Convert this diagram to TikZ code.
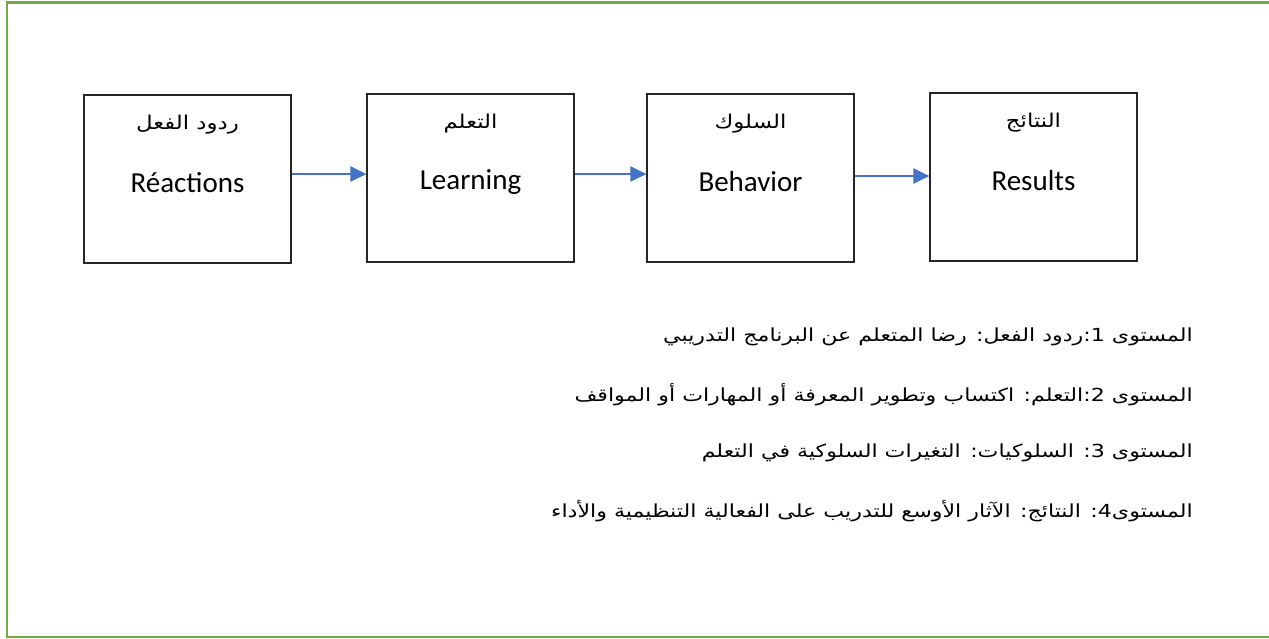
\documentclass[tikz,border=0pt]{standalone}
\usepackage{fontspec}
\setmainfont{Carlito}
\newfontfamily\arabicfont[Script=Arabic, FakeStretch=1.2]{DejaVu Sans}
\newfontfamily\arabiclines[Script=Arabic, FakeStretch=1.23]{DejaVu Sans}
\TeXXeTstate=1
\usetikzlibrary{arrows.meta}
\definecolor{framegreen}{HTML}{70AD47}
\definecolor{arrowblue}{HTML}{4472C4}
\tikzset{
  stage/.style={draw=black!85, line width=1.2pt, minimum width=207pt, minimum height=168pt, inner sep=0pt},
  artitle/.style={font=\arabicfont\fontsize{19}{22}\selectfont, inner sep=0pt},
  entitle/.style={font=\fontsize{29}{32}\selectfont, inner sep=0pt},
  flow/.style={draw=arrowblue, line width=2.5pt, -{Triangle[length=16pt,width=15pt]}},
  level/.style={font=\arabiclines\fontsize{18}{22}\selectfont, anchor=east, inner sep=0pt}
}
\begin{document}
\begin{tikzpicture}[x=1pt,y=-1pt]
\useasboundingbox (0,0) rectangle (1269,638);
\draw[framegreen, line width=2.2pt] (1275,2.5) -- (7,2.5) -- (7,637) -- (1275,637);

\node[stage] (b1) at (187.5,179) {};
\node[stage] (b2) at (470.5,178) {};
\node[stage] (b3) at (750.5,178) {};
\node[stage] (b4) at (1033.5,177) {};

\node[artitle] (t1a) at ([yshift=54pt]b1.center) {\beginR ردود الفعل\endR};
\node[artitle] (t2a) at ([yshift=54pt]b2.center) {\beginR التعلم\endR};
\node[artitle] (t3a) at ([yshift=54pt]b3.center) {\beginR السلوك\endR};
\node[artitle] (t4a) at ([yshift=54pt]b4.center) {\beginR النتائج\endR};

\node[entitle] (t1e) at ([yshift=-4pt]b1.center) {Réactions};
\node[entitle] (t2e) at ([yshift=-4pt]b2.center) {Learning};
\node[entitle] (t3e) at ([yshift=-4pt]b3.center) {Behavior};
\node[entitle] (t4e) at ([yshift=-4pt]b4.center) {Results};

\draw[flow] ([yshift=5pt]b1.east) -- ([yshift=4pt]b2.west);
\draw[flow] ([yshift=4pt]b2.east) -- ([yshift=4pt]b3.west);
\draw[flow] ([yshift=2pt]b3.east) -- ([yshift=1pt]b4.west);

\node[level] (l1) at (1193,337) {\beginR المستوى 1:ردود الفعل: رضا المتعلم عن البرنامج التدريبي\endR};
\node[level] (l2) at (1193,395) {\beginR المستوى 2:التعلم: اكتساب وتطوير المعرفة أو المهارات أو المواقف\endR};
\node[level] (l3) at (1193,453) {\beginR المستوى 3: السلوكيات: التغيرات السلوكية في التعلم\endR};
\node[level] (l4) at (1193,511) {\beginR المستوى4: النتائج: الآثار الأوسع للتدريب على الفعالية التنظيمية والأداء\endR};
\end{tikzpicture}
\end{document}
